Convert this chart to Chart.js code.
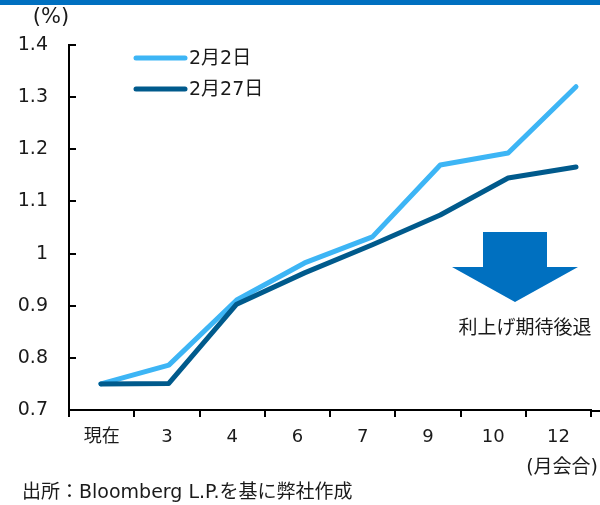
<!DOCTYPE html>
<html>
<head>
<meta charset="utf-8">
<script src="https://cdn.jsdelivr.net/npm/chart.js@4/dist/chart.umd.min.js"></script>
<style>
  body { margin: 0; background: #fff; }
  canvas { display: block; }
</style>
</head>
<body>
<canvas id="chart" width="600" height="505"></canvas>
<script>
//-----------------------------------------------------------------------------
// Data
//-----------------------------------------------------------------------------

var categories = ['現在', '3', '4', '6', '7', '9', '10', '12'];
var seriesNames = ['2月2日', '2月27日'];
var feb2 = [0.75, 0.786, 0.911, 0.982, 1.032, 1.170, 1.193, 1.320];
var feb27 = [0.75, 0.751, 0.903, 0.963, 1.017, 1.074, 1.145, 1.166];
var yTicks = [0.7, 0.8, 0.9, 1.0, 1.1, 1.2, 1.3, 1.4];

var FONT = '"DejaVu Sans", "Noto Sans CJK JP", sans-serif';
var TEXT = '#1a1a1a';
var LIGHT = '#3db5f5';
var DARK = '#005a8c';
var ACCENT = '#0070c0';

// lines are plotted on a hidden linear axis (index -> x), labels on a category axis
function toPoints(values) {
  return values.map(function(v, i) { return {x: i, y: v}; });
}

//-----------------------------------------------------------------------------
// Extras drawn on top (legend, inward y ticks, arrow, notes)
//-----------------------------------------------------------------------------

var extras = {
  id: 'extras',
  afterDraw: function(chart) {
    var ctx = chart.ctx, area = chart.chartArea, y = chart.scales.y;
    ctx.save();

    // blue bar at the top
    ctx.fillStyle = ACCENT;
    ctx.fillRect(0, 0, chart.width, 5);

    // inward y tick marks + axis line run-on
    ctx.strokeStyle = '#000';
    ctx.lineWidth = 2;
    yTicks.forEach(function(v) {
      var py = Math.round(y.getPixelForValue(v));
      ctx.beginPath();
      ctx.moveTo(area.left, py);
      ctx.lineTo(area.left + 7, py);
      ctx.stroke();
    });
    ctx.beginPath();
    ctx.moveTo(area.right, area.bottom + 1);
    ctx.lineTo(chart.width, area.bottom + 1);
    ctx.stroke();

    ctx.fillStyle = TEXT;
    ctx.textBaseline = 'middle';

    // unit labels
    ctx.font = '21px ' + FONT;
    ctx.textAlign = 'center';
    ctx.fillText('(%)', 51, 18);
    ctx.font = '19px ' + FONT;
    ctx.textAlign = 'right';
    ctx.fillText('(月会合)', 598, 468);

    // source
    ctx.textAlign = 'left';
    ctx.fillText('出所：Bloomberg L.P.を基に弊社作成', 22, 493);

    // legend
    chart.data.datasets.forEach(function(ds, i) {
      var ly = 58 + i * 31;
      ctx.strokeStyle = ds.borderColor;
      ctx.lineWidth = 5;
      ctx.lineCap = 'round';
      ctx.beginPath();
      ctx.moveTo(136, ly);
      ctx.lineTo(185, ly);
      ctx.stroke();
      ctx.fillStyle = TEXT;
      ctx.fillText(ds.label, 189, ly + 1);
    });

    // down arrow
    ctx.fillStyle = ACCENT;
    ctx.beginPath();
    ctx.moveTo(483, 232);
    ctx.lineTo(547, 232);
    ctx.lineTo(547, 267);
    ctx.lineTo(578, 267);
    ctx.lineTo(515, 302);
    ctx.lineTo(452, 267);
    ctx.lineTo(483, 267);
    ctx.closePath();
    ctx.fill();

    ctx.fillStyle = TEXT;
    ctx.textAlign = 'center';
    ctx.fillText('利上げ期待後退', 525, 329);

    ctx.restore();
  }
};

//-----------------------------------------------------------------------------
// Chart
//-----------------------------------------------------------------------------

new Chart(document.getElementById('chart'), {
  type: 'line',
  data: {
    labels: categories,
    datasets: [
      { label: seriesNames[0], data: toPoints(feb2), borderColor: LIGHT, order: 1, xAxisID: 'xl' },
      { label: seriesNames[1], data: toPoints(feb27), borderColor: DARK, order: 0, xAxisID: 'xl' }
    ]
  },
  options: {
    responsive: false,
    animation: false,
    devicePixelRatio: 1,
    layout: { padding: { top: 45, right: 9, bottom: 35, left: 0 } },
    elements: {
      line: { borderWidth: 5, tension: 0, borderCapStyle: 'round', borderJoinStyle: 'round', fill: false },
      point: { radius: 0 }
    },
    plugins: {
      legend: { display: false },
      tooltip: { enabled: false }
    },
    scales: {
      x: {
        type: 'category',
        offset: true,
        grid: { offset: true, drawOnChartArea: false, tickLength: 7, color: '#000', lineWidth: 2 },
        border: { display: true, color: '#000', width: 2 },
        ticks: { font: { size: 18, family: FONT }, color: TEXT, padding: 10, maxRotation: 0 },
        afterFit: function(s) { s.height = 60; }
      },
      xl: {
        type: 'linear',
        display: false,
        min: -0.4707,
        max: 7.221
      },
      y: {
        min: 0.7,
        max: 1.4,
        grid: { drawOnChartArea: false, drawTicks: false },
        border: { display: true, color: '#000', width: 2 },
        ticks: {
          stepSize: 0.1,
          padding: 21,
          font: { size: 19, family: FONT },
          color: TEXT,
          callback: function(v) { return String(Number(v.toFixed(1))); }
        },
        afterFit: function(s) { s.width = 69; }
      }
    }
  },
  plugins: [extras]
});
</script>
</body>
</html>
